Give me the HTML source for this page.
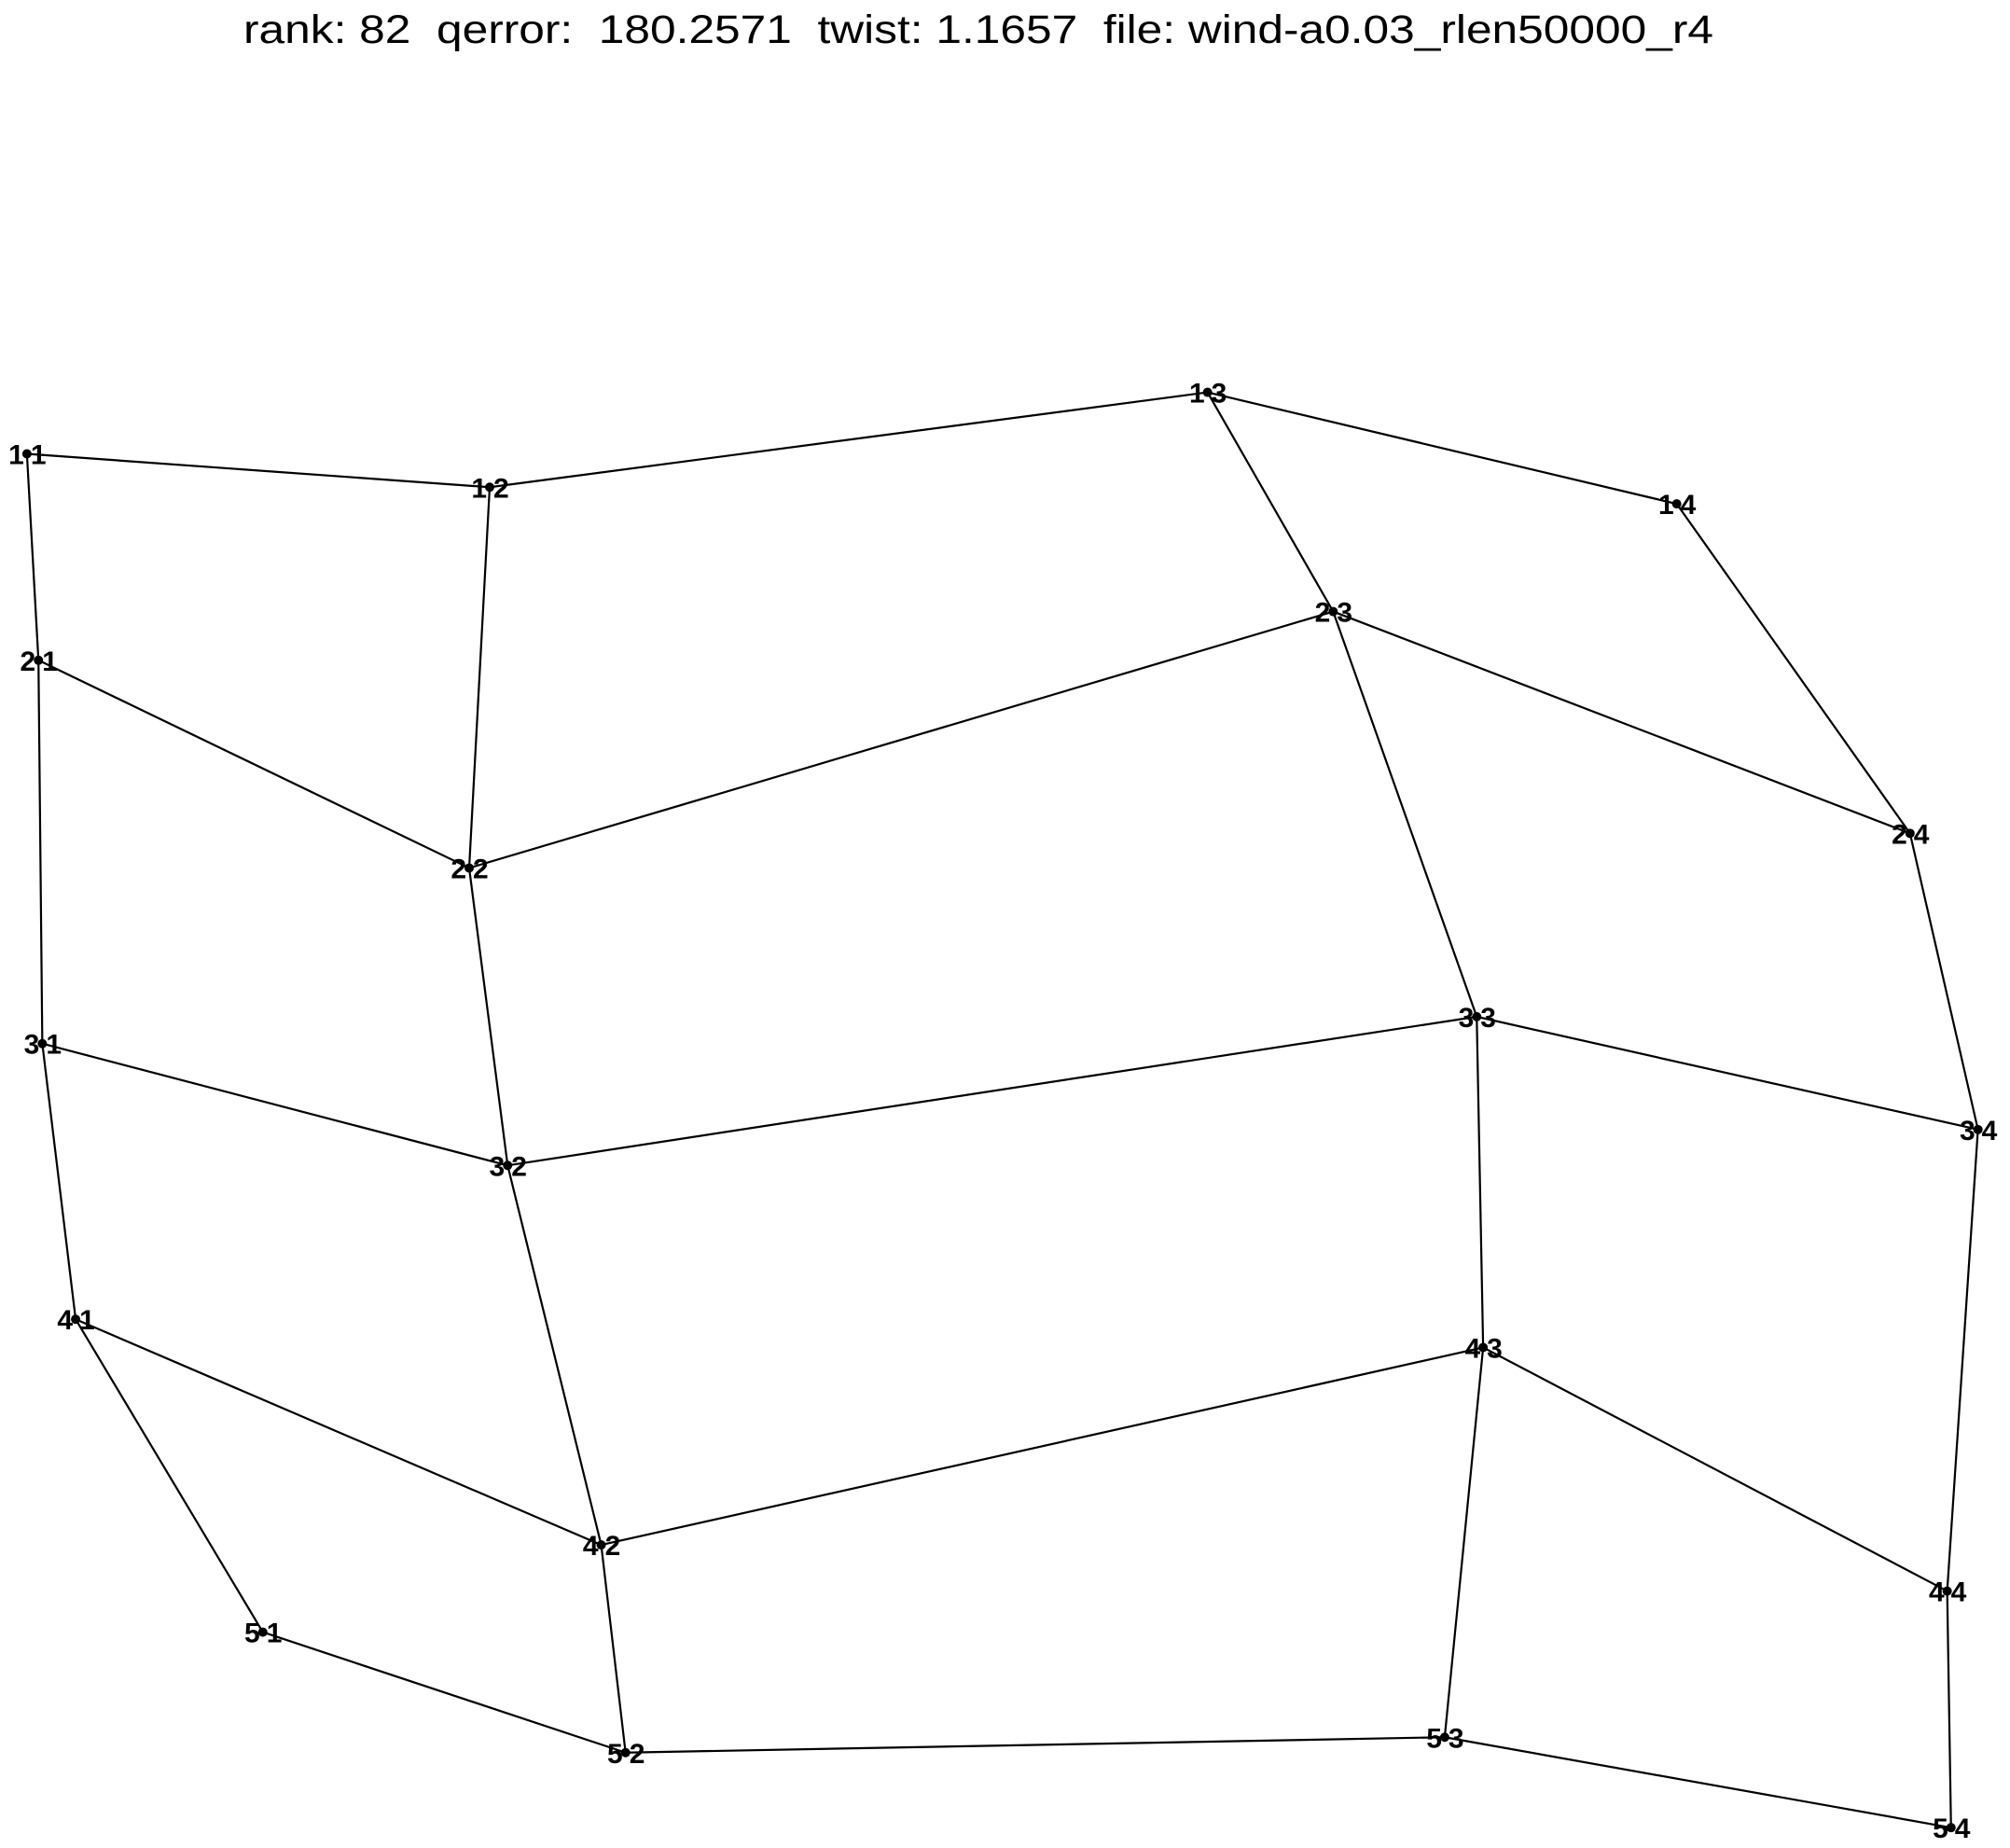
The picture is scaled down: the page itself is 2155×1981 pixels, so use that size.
<!DOCTYPE html>
<html><head><meta charset="utf-8"><style>
html,body{margin:0;padding:0;background:#fff;}
svg{display:block;}
</style></head><body>
<svg id="chart" width="2155" height="1981" viewBox="0 0 2155 1981" xmlns="http://www.w3.org/2000/svg">
<text x="1049" y="46" text-anchor="middle" font-family="Liberation Sans, sans-serif" font-size="43" xml:space="preserve" style="white-space:pre" textLength="1576" lengthAdjust="spacingAndGlyphs">rank: 82  qerror:  180.2571  twist: 1.1657  file: wind-a0.03_rlen50000_r4</text>
<g id="edges"></g>
<g id="nodes"></g>
</svg>
<script>
// node positions in data units (reference plot space)
const rows = [1,2,3,4,5];
const cols = [1,2,3,4];
const nodeX = [
  [21,382,942,1308],
  [30,366,1040,1490],
  [33,396,1152,1543],
  [59,469,1157,1519],
  [205,488,1127,1522]
];
const nodeY = [
  [354,380,306,393],
  [515,677,477,650],
  [814,909,793,881],
  [1029,1205,1051,1241],
  [1273,1367,1355,1425.5]
];
const S = 2155/1568;
function sx(v){return v*S;}
function sy(v){return v*S;}
const NS='http://www.w3.org/2000/svg';
const eg=document.getElementById('edges'), ng=document.getElementById('nodes');
function line(r1,c1,r2,c2){
  const l=document.createElementNS(NS,'line');
  l.setAttribute('x1',sx(nodeX[r1][c1]));l.setAttribute('y1',sy(nodeY[r1][c1]));
  l.setAttribute('x2',sx(nodeX[r2][c2]));l.setAttribute('y2',sy(nodeY[r2][c2]));
  l.setAttribute('stroke','#000');l.setAttribute('stroke-width','2.2');
  
  
  eg.appendChild(l);
}
for(let r=0;r<rows.length;r++)for(let c=0;c<cols.length;c++){
  if(c+1<cols.length)line(r,c,r,c+1);
  if(r+1<rows.length)line(r,c,r+1,c);
}
function label(x,y,txt,anchor,name){
  const t=document.createElementNS(NS,'text');
  t.setAttribute('x',x);t.setAttribute('y',y);
  t.setAttribute('text-anchor',anchor);
  t.setAttribute('font-family','Liberation Sans, sans-serif');
  t.setAttribute('font-weight','bold');t.setAttribute('font-size','30');
  t.textContent=txt;
  
  
  ng.appendChild(t);
}
for(let r=0;r<rows.length;r++)for(let c=0;c<cols.length;c++){
  const x=sx(nodeX[r][c]),y=sy(nodeY[r][c]);
  label(x-3,y+11,String(rows[r]),'end','node-row-label-'+rows[r]+'-'+cols[c]);
  label(x+4,y+11,String(cols[c]),'start','node-col-label-'+rows[r]+'-'+cols[c]);
  const d=document.createElementNS(NS,'circle');
  d.setAttribute('cx',x);d.setAttribute('cy',y);d.setAttribute('r','5');d.setAttribute('fill','#000');
  
  
  ng.appendChild(d);
}
</script>
</body></html>
